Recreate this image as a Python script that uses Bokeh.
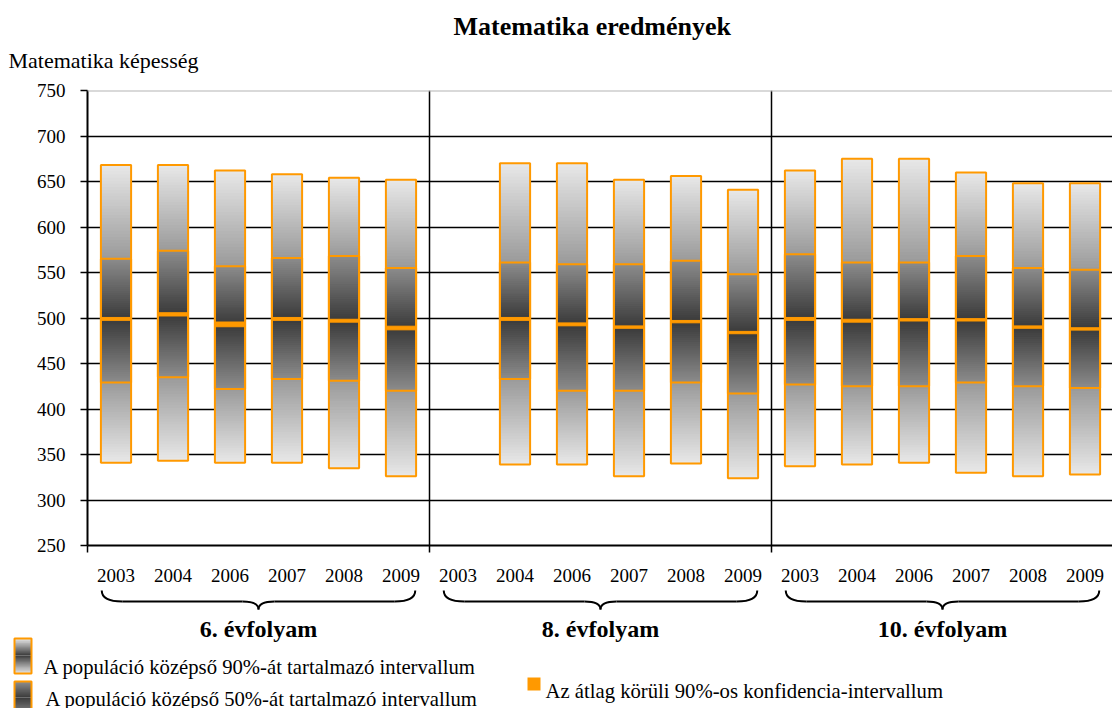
import math
from bokeh.plotting import figure
from bokeh.models import Range1d, FixedTicker, Span, Title
from bokeh.layouts import column
from bokeh.core.properties import value
from bokeh.embed import file_html
from bokeh.resources import INLINE

# ---------------- data ----------------
chart_title = "Matematika eredmények"
y_title = "Matematika képesség"
grades = ["6. évfolyam", "8. évfolyam", "10. évfolyam"]
years = ["2003", "2004", "2006", "2007", "2008", "2009"]
NA = float("nan")

# 6. évfolyam
p95_6 = [668, 668, 662, 658, 654, 652]
p75_6 = [565, 574, 557, 566, 568, 555]
mean_6 = [499, 504, 493, 499, 497, 489]
p25_6 = [429, 435, 422, 433, 431, 420]
p5_6 = [341, 343, 341, 341, 335, 326]
ci_6 = [1.6, 1.8, 2.6, 1.6, 1.6, 2.0]

# 8. évfolyam (no 2003 data)
p95_8 = [NA, 670, 670, 652, 656, 641]
p75_8 = [NA, 561, 559, 559, 563, 548]
mean_8 = [NA, 499, 493, 490, 496, 484]
p25_8 = [NA, 433, 420, 420, 429, 417]
p5_8 = [NA, 339, 339, 326, 340, 324]
ci_8 = [NA, 1.6, 1.6, 1.3, 1.3, 1.3]

# 10. évfolyam
p95_10 = [662, 675, 675, 660, 648, 648]
p75_10 = [570, 561, 561, 568, 555, 553]
mean_10 = [499, 497, 498, 498, 490, 488]
p25_10 = [427, 425, 425, 429, 425, 423]
p5_10 = [337, 339, 341, 330, 326, 328]
ci_10 = [1.6, 1.6, 1.3, 1.3, 1.3, 1.3]

legend_90 = "A populáció középső 90%-át tartalmazó intervallum"
legend_50 = "A populáció középső 50%-át tartalmazó intervallum"
legend_ci = "Az átlag körüli 90%-os konfidencia-intervallum"

y_ticks = [250, 300, 350, 400, 450, 500, 550, 600, 650, 700, 750]

# ---------------- style ----------------
FONT = "'Liberation Serif'"
ORANGE = "#FF9900"
LIGHT, MID_OUT, MID_IN, DARK = 0xE8, 0x9A, 0x8C, 0x3A
SLOT = 57.0          # px per category slot
HALF = 0.265         # half bar width in slot units
LEFT_BORDER = 87
TOP_BORDER = 90
BOTTOM_BORDER = 44
FRAME_W, FRAME_H = 1112 - LEFT_BORDER, 455
TOTAL_H = 708

top = p95_6 + p95_8 + p95_10
q75 = p75_6 + p75_8 + p75_10
mean = mean_6 + mean_8 + mean_10
q25 = p25_6 + p25_8 + p25_10
bot = p5_6 + p5_8 + p5_10
ci = ci_6 + ci_8 + ci_10
n_per = len(years)
n_all = n_per * len(grades)
centers = [i + 0.5 for i in range(n_all)]
labels = years * len(grades)


def gray(v):
    v = max(0, min(255, int(round(v))))
    return "#%02x%02x%02x" % (v, v, v)


def add_grad(acc, x0, x1, y0, y1, v0, v1, n=30):
    h = (y1 - y0) / n
    for k in range(n):
        ya = y0 + h * k
        yb = y0 + h * (k + 1) + (h * 0.6 if k < n - 1 else 0)
        v = v0 + (v1 - v0) * (k + 0.5) / n
        acc["left"].append(x0)
        acc["right"].append(x1)
        acc["bottom"].append(min(ya, yb))
        acc["top"].append(max(ya, yb))
        acc["color"].append(gray(v))


# ---------------- main chart ----------------
p = figure(frame_width=FRAME_W, frame_height=FRAME_H,
           x_range=Range1d(0, FRAME_W / SLOT), y_range=Range1d(250, 750),
           output_backend="svg", toolbar_location=None,
           min_border_left=LEFT_BORDER, min_border_right=0,
           min_border_top=TOP_BORDER, min_border_bottom=BOTTOM_BORDER)
p.frame_align = False
p.outline_line_color = None
p.background_fill_color = "white"
p.border_fill_color = "white"

p.title.text = chart_title
p.title.text_font = FONT
p.title.text_font_size = "26px"
p.title.text_font_style = "bold"
p.title.align = "left"
p.title.offset = 366
p.title.standoff = -18
p.title.text_color = "black"

ylab = Title(text=y_title, align="left", offset=-(LEFT_BORDER - 8), text_font=FONT,
             text_font_size="22px", text_font_style="normal", standoff=32,
             vertical_align="top", text_color="black")
p.add_layout(ylab, "above")

# y axis
p.yaxis.ticker = FixedTicker(ticks=y_ticks)
p.yaxis.axis_line_color = "black"
p.yaxis.axis_line_width = 2
p.yaxis.major_tick_out = 7
p.yaxis.major_tick_in = 0
p.yaxis.major_tick_line_color = "black"
p.yaxis.major_tick_line_width = 1.5
p.yaxis.minor_tick_line_color = None
p.yaxis.major_label_text_font = FONT
p.yaxis.major_label_text_font_size = "19px"
p.yaxis.major_label_text_color = "black"
p.yaxis.major_label_standoff = 15

# x axis: labels at slot centres, minor ticks at group boundaries
p.xaxis.ticker = FixedTicker(ticks=centers, minor_ticks=[0, n_per, 2 * n_per])
p.xaxis.major_label_overrides = {c: l for c, l in zip(centers, labels)}
p.xaxis.axis_line_color = "black"
p.xaxis.axis_line_width = 2
p.xaxis.major_tick_line_color = None
p.xaxis.major_tick_out = 0
p.xaxis.major_tick_in = 0
p.xaxis.minor_tick_line_color = "black"
p.xaxis.minor_tick_line_width = 1.5
p.xaxis.minor_tick_out = 7
p.xaxis.minor_tick_in = 0
p.xaxis.major_label_text_font = FONT
p.xaxis.major_label_text_font_size = "19px"
p.xaxis.major_label_text_color = "black"
p.xaxis.major_label_standoff = 16

p.xgrid.visible = False
p.ygrid.ticker = FixedTicker(ticks=y_ticks[1:-1])
p.ygrid.grid_line_color = "black"
p.ygrid.grid_line_width = 1.5
p.add_layout(Span(location=750, dimension="width", line_color="#b4b4b4", line_width=2))

# group separators
p.segment(x0=[n_per, 2 * n_per], y0=[250, 250], x1=[n_per, 2 * n_per], y1=[750, 750],
          line_color="black", line_width=1.5)

# gradient fills
acc = {"left": [], "right": [], "bottom": [], "top": [], "color": []}
for i in range(n_all):
    if math.isnan(mean[i]):
        continue
    x0, x1 = centers[i] - HALF, centers[i] + HALF
    add_grad(acc, x0, x1, bot[i], q25[i], LIGHT, MID_OUT)
    add_grad(acc, x0, x1, q25[i], mean[i], MID_IN, DARK)
    add_grad(acc, x0, x1, mean[i], q75[i], DARK, MID_IN)
    add_grad(acc, x0, x1, q75[i], top[i], MID_OUT, LIGHT)
p.quad(left="left", right="right", bottom="bottom", top="top", fill_color="color",
       line_color=None, source=acc)

lefts = [c - HALF for c in centers]
rights = [c + HALF for c in centers]
p.quad(left=lefts, right=rights, bottom=bot, top=top, fill_color=None,
       line_color=ORANGE, line_width=2)
p.quad(left=lefts, right=rights, bottom=q25, top=q75, fill_color=None,
       line_color=ORANGE, line_width=2)
p.quad(left=lefts, right=rights, bottom=[m - c for m, c in zip(mean, ci)],
       top=[m + c for m, c in zip(mean, ci)], fill_color=ORANGE,
       line_color=ORANGE, line_width=1)

# ---------------- bottom panel: braces, group labels, legend ----------------
A_H = TOP_BORDER + FRAME_H + BOTTOM_BORDER
B_H = TOTAL_H - A_H
B_TOP = A_H


def px(xpage):
    return (xpage - LEFT_BORDER) / SLOT


q = figure(width=1112, height=B_H, x_range=Range1d(px(0), px(1112)),
           y_range=Range1d(TOTAL_H, B_TOP), output_backend="svg", toolbar_location=None,
           min_border=0, min_border_left=0, min_border_right=0, min_border_top=0,
           min_border_bottom=0, x_axis_type=None, y_axis_type=None)
q.frame_align = False
q.outline_line_color = None
q.grid.visible = False
q.background_fill_color = "white"
q.border_fill_color = "white"

y_end, y_mid, y_tip = 590, 601, 609
for g in range(len(grades)):
    xl = g * n_per + 0.25
    xr = g * n_per + n_per - 0.25
    xm = g * n_per + n_per / 2
    r1, r2 = 0.36, 0.28
    q.quadratic(x0=[xl, xm - r2, xm, xr], y0=[y_end, y_mid, y_tip, y_end],
                x1=[xl + r1, xm, xm + r2, xr - r1], y1=[y_mid, y_tip, y_mid, y_mid],
                cx=[xl, xm, xm, xr], cy=[y_mid, y_mid, y_mid, y_mid],
                line_color="black", line_width=2)
    q.segment(x0=[xl + r1, xm + r2], y0=[y_mid, y_mid], x1=[xm - r2, xr - r1],
              y1=[y_mid, y_mid], line_color="black", line_width=2)

q.text(x=[g * n_per + n_per / 2 for g in range(len(grades))], y=[628] * len(grades),
       text=grades, text_font=value(FONT), text_font_size="24px",
       text_font_style="bold", text_align="center", text_baseline="middle",
       text_color="black")

# legend icons
lg = {"left": [], "right": [], "bottom": [], "top": [], "color": []}
ix0, ix1 = px(14), px(31)
# 90% icon: light - dark - light
add_grad(lg, ix0, ix1, 638, 655, LIGHT, DARK, 14)
add_grad(lg, ix0, ix1, 655, 673, DARK, LIGHT, 14)
# 50% icon: gray - dark - gray
add_grad(lg, ix0, ix1, 681, 697, 0x90, DARK, 12)
add_grad(lg, ix0, ix1, 697, 712, DARK, 0x80, 12)
q.quad(left="left", right="right", bottom="bottom", top="top", fill_color="color",
       line_color=None, source=lg)
q.quad(left=[ix0, ix0], right=[ix1, ix1], bottom=[673, 714], top=[638, 681],
       fill_color=None, line_color=ORANGE, line_width=2)
q.quad(left=[px(527)], right=[px(540)], bottom=[690], top=[677],
       fill_color=ORANGE, line_color=None)

q.text(x=[px(43), px(45), px(545)], y=[666, 698, 690],
       text=[legend_90, legend_50, legend_ci], text_font=value(FONT),
       text_font_size="20.7px", text_align="left", text_baseline="middle",
       text_color="black")

layout = column(p, q, spacing=0)
open("out.html", "w").write(file_html(layout, INLINE))
